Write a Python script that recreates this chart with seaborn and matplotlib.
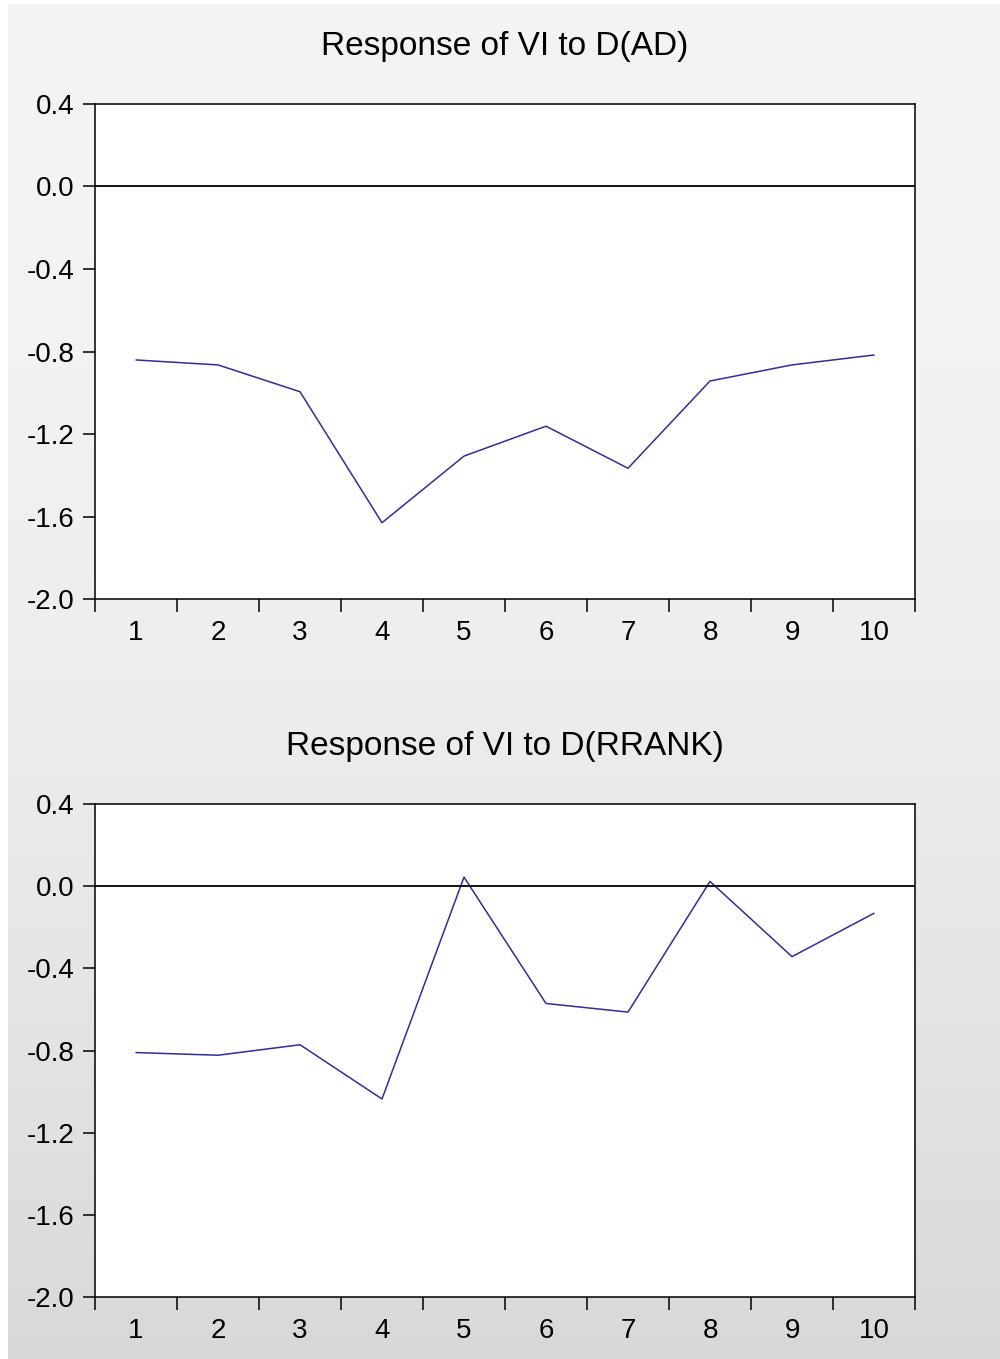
import numpy as np
import pandas as pd
import matplotlib.pyplot as plt
import seaborn as sns

# impulse response values
periods = [1, 2, 3, 4, 5, 6, 7, 8, 9, 10]
resp_ad = [-0.841, -0.865, -0.995, -1.63, -1.307, -1.162, -1.366, -0.943, -0.865, -0.817]
resp_rrank = [-0.81, -0.823, -0.772, -1.036, 0.044, -0.571, -0.613, 0.023, -0.343, -0.132]
titles = ['Response of VI to D(AD)', 'Response of VI to D(RRANK)']
y_ticks = [0.4, 0.0, -0.4, -0.8, -1.2, -1.6, -2.0]

sns.set_style('white')
plt.rcParams['font.family'] = ['Liberation Sans', 'DejaVu Sans']
plt.rcParams['text.color'] = 'black'
plt.rcParams['xtick.color'] = 'black'
plt.rcParams['ytick.color'] = 'black'
plt.rcParams['axes.labelcolor'] = 'black'

fig = plt.figure(figsize=(10, 13.59), dpi=100, facecolor='white')

# grey gradient background like the EViews window
bg = fig.add_axes([0.008, 0, 0.992, 1 - 4 / 1359], zorder=-10)
t = np.linspace(0, 1, 400) ** 2
grad = (244 - 28 * t)[:, None] / 255.0
bg.imshow(np.repeat(grad[:, :, None], 3, axis=2), aspect='auto', extent=[0, 1, 0, 1])
bg.set_axis_off()

positions = [[0.095, 0.5592, 0.82, 0.3643], [0.095, 0.0456, 0.82, 0.3628]]
series = [resp_ad, resp_rrank]

for pos, vals, title in zip(positions, series, titles):
    ax = fig.add_axes(pos)
    ax.set_facecolor('white')
    df = pd.DataFrame({'period': periods, 'response': vals})
    sns.lineplot(data=df, x='period', y='response', ax=ax, color='#2e2e9e', linewidth=1.1)
    ax.axhline(0, color='black', linewidth=1.3)

    ax.set_xlim(0.5, 10.5)
    ax.set_ylim(-2.0, 0.4)
    ax.set_yticks(y_ticks)
    ax.set_yticklabels([f'{v:.1f}' for v in y_ticks])
    ax.set_xticks(periods)
    ax.set_xticks(np.arange(0.5, 11, 1.0), minor=True)
    ax.tick_params(axis='x', which='major', length=0, pad=15, labelsize=20, labelcolor='black')
    ax.tick_params(axis='x', which='minor', length=9, width=1.1, direction='out', color='black', bottom=True)
    ax.tick_params(axis='y', which='major', length=9, width=1.1, direction='out', color='black',
                   pad=6, labelsize=20, labelcolor='black', left=True)
    ax.set_xlabel('')
    ax.set_ylabel('')
    for s in ax.spines.values():
        s.set_visible(True)
        s.set_color('black')
        s.set_linewidth(1.1)
    ax.set_title(title, fontsize=24, pad=35, color='black')

fig.savefig('out.png', dpi=100)
